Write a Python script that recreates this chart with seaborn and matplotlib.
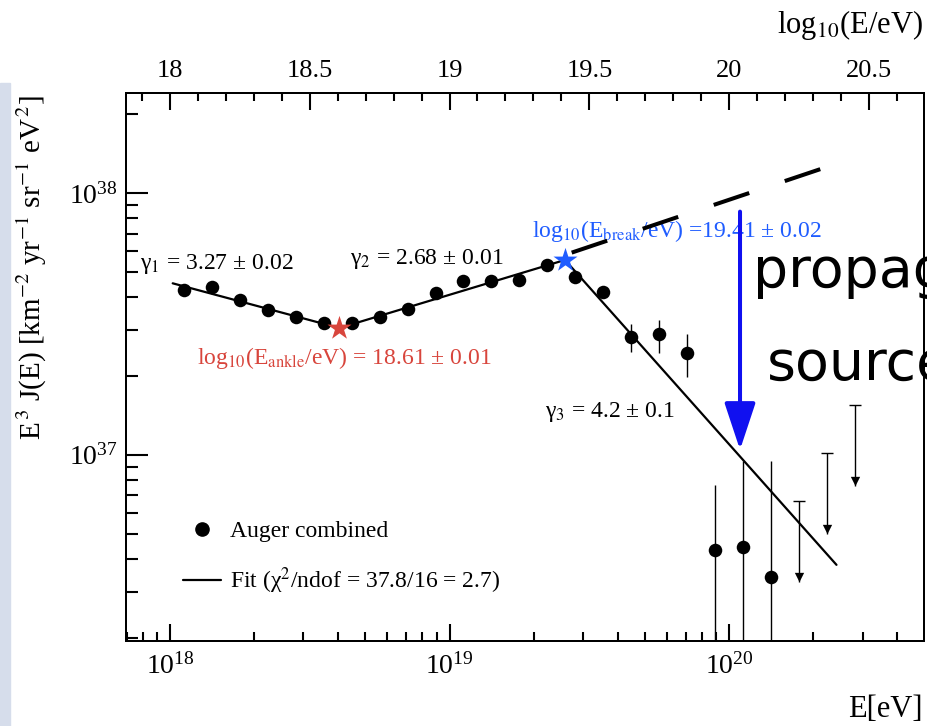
import numpy as np
import pandas as pd
import matplotlib
matplotlib.use("Agg")
import matplotlib.pyplot as plt
import seaborn as sns
from matplotlib.lines import Line2D
from matplotlib.ticker import LogLocator, FixedLocator, NullFormatter
from matplotlib.patches import Rectangle

# ---------------- data ----------------
log10_E = [18.05, 18.15, 18.25, 18.35, 18.45, 18.55, 18.65, 18.75, 18.85, 18.95,
           19.05, 19.15, 19.25, 19.35, 19.45, 19.55, 19.65, 19.75, 19.85, 19.95,
           20.05, 20.15]
E3J = [4.27e37, 4.37e37, 3.91e37, 3.57e37, 3.37e37, 3.18e37, 3.20e37, 3.36e37,
       3.60e37, 4.16e37, 4.62e37, 4.62e37, 4.66e37, 5.31e37, 4.76e37, 4.20e37,
       2.81e37, 2.89e37, 2.44e37, 4.34e36, 4.45e36, 3.40e36]

err_log10_E = [19.65, 19.75, 19.85, 19.95, 20.05, 20.15]
err_high = [3.16e37, 3.27e37, 2.90e37, 7.67e36, 9.44e36, 9.44e36]
err_low = [2.48e37, 2.45e37, 1.99e37, 1.0e36, 1.0e36, 1.0e36]

ul_log10_E = [20.25, 20.35, 20.45]
ul_value = [6.67e36, 1.014e37, 1.552e37]

fit_log10_E = [18.01, 18.606, 19.413, 20.384]
fit_value = [4.52e37, 3.05e37, 5.55e37, 3.80e36]

ext_log10_E = [19.437, 20.345]
ext_value = [5.92e37, 1.253e38]

ankle_log10_E, ankle_value = 18.606, 3.05e37
break_log10_E, break_value = 19.413, 5.55e37

arrow_log10_E = 20.039
arrow_from, arrow_to = 8.49e37, 1.045e37

top_major = [18, 18.5, 19, 19.5, 20, 20.5]
top_labels = ["18", "18.5", "19", "19.5", "20", "20.5"]
top_minor = [17.9, 18.1, 18.2, 18.3, 18.4, 18.6, 18.7, 18.8, 18.9, 19.1, 19.2, 19.3,
             19.4, 19.6, 19.7, 19.8, 19.9, 20.1, 20.2, 20.3, 20.4, 20.6]

# ---------------- style ----------------
sns.set_style("ticks")
plt.rcParams["font.family"] = ["Liberation Serif", "DejaVu Serif"]
plt.rcParams["mathtext.fontset"] = "stix"
plt.rcParams["axes.linewidth"] = 1.4
for k in ["text.color", "axes.labelcolor", "xtick.color", "ytick.color", "axes.edgecolor"]:
    plt.rcParams[k] = "black"

RED = "#d8453c"
BLUE = "#1f5cff"
ARROW_BLUE = "#1010f0"
TW = 1.5  # tick width

W, H = 927, 726
fig = plt.figure(figsize=(W / 100, H / 100), dpi=100)
fig.patch.set_facecolor("white")
# decorative slide band on the left
fig.patches.append(Rectangle((0, 0), 10 / W, 1 - 83 / H, transform=fig.transFigure,
                             color="#d6ddeb", zorder=0))

ax = fig.add_axes([126 / W, 1 - 640.7 / H, (924 - 126) / W, (640.7 - 93) / H])
ax.set_xscale("log")
ax.set_yscale("log")
XLIM = (10 ** 17.843, 10 ** 20.697)
ax.set_xlim(*XLIM)
ax.set_ylim(1.95e36, 2.41e38)

E = np.power(10.0, log10_E)
df = pd.DataFrame({"E": E, "E3J": E3J})
fit_df = pd.DataFrame({"E": np.power(10.0, fit_log10_E), "E3J": fit_value})
ext_df = pd.DataFrame({"E": np.power(10.0, ext_log10_E), "E3J": ext_value})

# fit line
sns.lineplot(data=fit_df, x="E", y="E3J", ax=ax, color="black", lw=1.6,
             sort=False, estimator=None, zorder=2)
# dashed extension
ax.plot(ext_df["E"], ext_df["E3J"], color="black", lw=2.9,
        linestyle=(0, (9.3, 9.3)), dash_capstyle="butt", zorder=2)

# error bars
eE = np.power(10.0, err_log10_E)
eY = np.array([E3J[log10_E.index(v)] for v in err_log10_E])
ax.errorbar(eE, eY, yerr=[eY - np.array(err_low), np.array(err_high) - eY],
            fmt="none", ecolor="black", elinewidth=1.0, capsize=0, zorder=2)

# data points
sns.scatterplot(data=df, x="E", y="E3J", ax=ax, color="black", s=95,
                edgecolor="black", linewidth=0, legend=False, zorder=3)

# upper limits
uE = np.power(10.0, ul_log10_E)
uV = np.array(ul_value)
tip = uV * 0.49
ax.vlines(uE, tip, uV, color="black", lw=1.0, zorder=2)
ax.scatter(uE, uV, marker="_", s=70, color="black", linewidths=1.0, zorder=3)
ax.scatter(uE, tip * 1.045, marker="v", s=45, color="black", linewidths=0, zorder=3)

# stars
ax.scatter([10 ** ankle_log10_E], [ankle_value], marker="*", s=330, color=RED,
           linewidths=0, zorder=4)
ax.scatter([10 ** break_log10_E], [break_value], marker="*", s=330, color=BLUE,
           linewidths=0, zorder=4)

# blue arrow
ax.annotate("", xy=(10 ** arrow_log10_E, arrow_to), xytext=(10 ** arrow_log10_E, arrow_from),
            arrowprops=dict(arrowstyle="-|>,head_width=0.48,head_length=1.45",
                            mutation_scale=20, lw=2.9, color=ARROW_BLUE,
                            shrinkA=0, shrinkB=0), zorder=5)

# annotations
fs = 17
ax.text(10 ** 17.893, 10 ** 37.729, "γ$_1$ = 3.27 ± 0.02", fontsize=fs, va="center", ha="left")
ax.text(10 ** 18.644, 10 ** 37.748, "γ$_2$ = 2.68 ± 0.01", fontsize=fs, va="center", ha="left")
ax.text(10 ** 19.341, 10 ** 37.164, "γ$_3$ = 4.2 ± 0.1", fontsize=fs, va="center", ha="left")
ax.text(10 ** 18.097, 10 ** 37.370, "log$_{10}$(E$_{\\mathrm{ankle}}$/eV) = 18.61 ± 0.01",
        fontsize=fs, va="center", ha="left", color=RED)
ax.text(10 ** 19.295, 10 ** 37.855, "log$_{10}$(E$_{\\mathrm{break}}$/eV) =19.41 ± 0.02",
        fontsize=fs, va="center", ha="left", color=BLUE, zorder=1)

# legend
handles = [Line2D([], [], marker="o", color="black", linestyle="none", markersize=9.5),
           Line2D([], [], color="black", lw=1.6)]
labels = ["Auger combined", "Fit (χ$^2$/ndof = 37.8/16 = 2.7)"]
leg = ax.legend(handles, labels, loc="center left", bbox_to_anchor=(0.0714, 0.150),
                frameon=False, fontsize=fs, handlelength=1.6, handletextpad=0.4,
                labelspacing=1.0, borderpad=0, borderaxespad=0)

# ticks
ax.tick_params(axis="both", which="both", direction="in", top=False, right=False)
ax.tick_params(axis="x", which="major", length=12.5, width=TW, labelsize=20, pad=9)
ax.tick_params(axis="x", which="minor", length=6.5, width=TW)
ax.tick_params(axis="y", which="major", length=16, width=TW, labelsize=20, pad=6)
ax.tick_params(axis="y", which="minor", length=8.5, width=TW)
ax.xaxis.set_major_locator(LogLocator(base=10, numticks=10))
ax.xaxis.set_minor_locator(LogLocator(base=10, subs=np.arange(2, 10), numticks=20))
ax.xaxis.set_minor_formatter(NullFormatter())
ax.yaxis.set_major_locator(LogLocator(base=10, numticks=10))
ax.yaxis.set_minor_locator(LogLocator(base=10, subs=np.arange(2, 10), numticks=20))
ax.yaxis.set_minor_formatter(NullFormatter())
ax.set_xlabel("")
ax.set_ylabel("")
for s in ax.spines.values():
    s.set_linewidth(1.4)
    s.set_color("black")

# top axis: log10(E/eV)
tax = ax.twiny()
tax.set_xscale("log")
tax.set_xlim(*XLIM)
tax.xaxis.set_major_locator(FixedLocator(np.power(10.0, top_major)))
tax.set_xticklabels(top_labels)
tax.xaxis.set_minor_locator(FixedLocator(np.power(10.0, top_minor)))
tax.xaxis.set_minor_formatter(NullFormatter())
tax.tick_params(axis="x", which="both", direction="in", top=True, bottom=False,
                labeltop=True, labelbottom=False, colors="black")
tax.tick_params(axis="x", which="major", length=12.5, width=TW, labelsize=19, pad=8)
tax.tick_params(axis="x", which="minor", length=6, width=TW)
tax.tick_params(axis="y", which="both", left=False, right=False, labelleft=False,
                labelright=False)
for s in tax.spines.values():
    s.set_linewidth(1.4)
    s.set_color("black")

# axis titles
fig.text(32 / W, 1 - 268 / H,
         "E$^{\\,3}$ J(E) [km$^{-2}$ yr$^{-1}$ sr$^{-1}$ eV$^{\\,2}$]",
         rotation=90, ha="center", va="center", fontsize=21)
fig.text(923 / W, 1 - 25 / H, "log$_{10}$(E/eV)", ha="right", va="center", fontsize=22)
fig.text(923 / W, 1 - 717 / H, "E[eV]", ha="right", va="baseline", fontsize=22)

# slide overlay text
fig.text(753 / W, 1 - 287 / H, "propagation", fontsize=40, family="DejaVu Sans",
         va="baseline", ha="left", color="black")
fig.text(767 / W, 1 - 380 / H, "source", fontsize=40, family="DejaVu Sans",
         va="baseline", ha="left", color="black")

fig.savefig("out.png", dpi=100)
